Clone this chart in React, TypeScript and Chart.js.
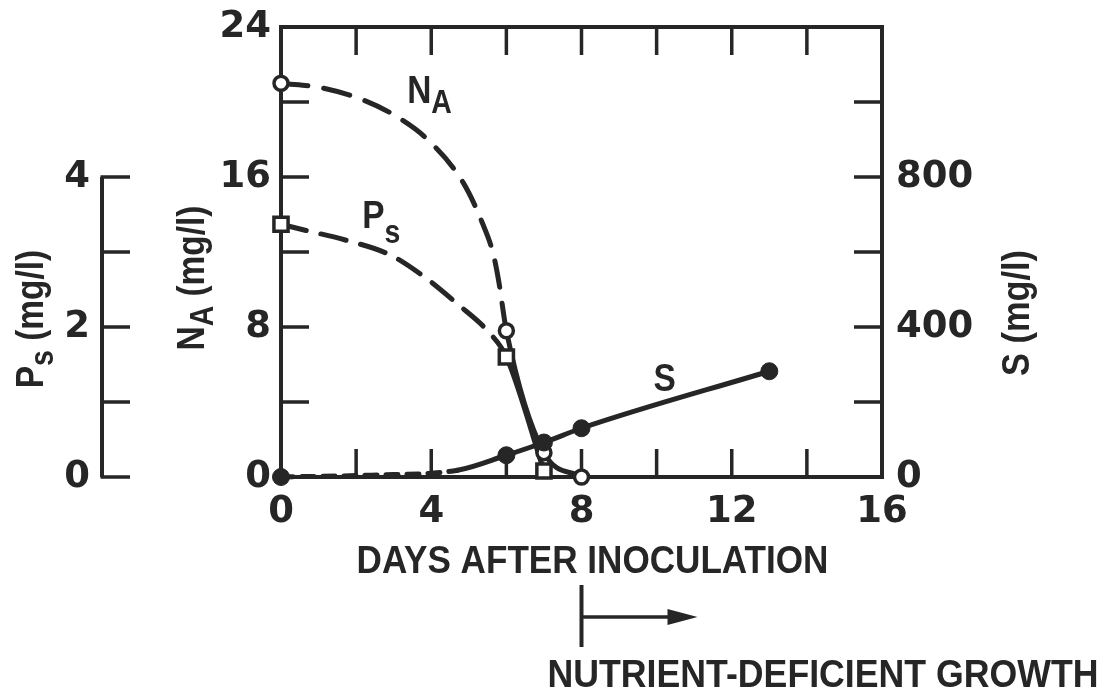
import React, { useEffect, useRef } from 'react';
import { Chart, registerables } from 'chart.js';

Chart.register(...registerables);

// ---------------- data ----------------
// N_A (mg/l) – curve traced through the hand-drawn line, and measured samples
const NA_CURVE_DAYS = [0, 1.1, 2.2, 3.1, 3.9, 4.85, 5.35, 5.65, 5.8, 6, 7, 8];
const NA_CURVE_VALUES = [21, 20.75, 20.1, 19.2, 18.0, 15.7, 13.6, 11.9, 10.4, 7.8, 1.3, 0];
const NA_SAMPLE_DAYS = [0, 6, 7, 8];
const NA_SAMPLE_VALUES = [21, 7.8, 1.3, 0];

// P_s (mg/l)
const PS_CURVE_DAYS = [0, 0.64, 1.71, 2.91, 3.81, 4.69, 5.57, 6, 7];
const PS_CURVE_VALUES = [3.37, 3.29, 3.16, 2.96, 2.67, 2.31, 1.91, 1.6, 0.08];
const PS_SAMPLE_DAYS = [0, 6, 7];
const PS_SAMPLE_VALUES = [3.37, 1.6, 0.08];

// S (mg/l)
const S_CURVE_DAYS = [0, 2.4, 4.7, 6, 7, 8, 13];
const S_CURVE_VALUES = [0, 5, 18, 58, 92, 130, 282];
const S_SAMPLE_DAYS = [0, 6, 7, 8, 13];
const S_SAMPLE_VALUES = [0, 58, 92, 130, 282];

// where the dashed part of each line ends (days)
const NA_DASH_UNTIL = 6;
const PS_DASH_UNTIL = 6;
const S_DASH_UNTIL = 4.7;

// tick values
const DAY_LABEL_TICKS = [0, 4, 8, 12, 16];
const NA_LABEL_TICKS = [0, 8, 16, 24];
const S_LABEL_TICKS = [0, 400, 800];
const PS_LABEL_TICKS = [0, 2, 4];
const DAY_MINOR_TICKS = [2, 4, 6, 8, 10, 12, 14];
const NA_MINOR_TICKS = [4, 8, 12, 16, 20];
const S_MINOR_TICKS = [200, 400, 600, 800, 1000];
const PS_AXIS_TICKS = [0, 1, 2, 3, 4];

// texts
const X_TITLE = 'DAYS AFTER INOCULATION';
const PHASE_TEXT = 'NUTRIENT-DEFICIENT GROWTH';
const PHASE_START_DAY = 8;

// ---------------- styles ----------------
const INK = '#262626';
const NUM_FONT = 'DejaVu Sans';
const TXT_FONT = '"Liberation Sans", sans-serif';
const SQUEEZE = 0.88; // narrow lettering
const TICK_LEN = 28;

const pts = (xs: number[], ys: number[]) => xs.map((x, i) => ({ x, y: ys[i] }));

type Part = { t: string; sub?: boolean; dy?: number };

function drawParts(
  ctx: CanvasRenderingContext2D,
  parts: Part[],
  x: number,
  y: number,
  size: number,
  align: 'left' | 'center',
  sq: number = SQUEEZE,
) {
  const subSize = size * 0.85;
  const fontOf = (p: Part) => `bold ${p.sub ? subSize : size}px ${TXT_FONT}`;
  let total = 0;
  const widths = parts.map((p) => {
    ctx.font = fontOf(p);
    const w = ctx.measureText(p.t).width * sq;
    total += w;
    return w;
  });
  let cx = align === 'center' ? x - total / 2 : x;
  ctx.textAlign = 'left';
  ctx.textBaseline = 'alphabetic';
  parts.forEach((p, i) => {
    ctx.save();
    ctx.font = fontOf(p);
    ctx.translate(cx, y + (p.sub ? p.dy ?? size * 0.3 : 0));
    ctx.scale(sq, 1);
    ctx.fillText(p.t, 0, 0);
    ctx.restore();
    cx += widths[i];
  });
}

function drawRotated(
  ctx: CanvasRenderingContext2D,
  parts: Part[],
  cx: number,
  cy: number,
  size: number,
) {
  ctx.save();
  ctx.translate(cx, cy);
  ctx.rotate(-Math.PI / 2);
  drawParts(ctx, parts, 0, size * 0.36, size, 'center');
  ctx.restore();
}

const decorPlugin = {
  id: 'decor',
  beforeDatasetsDraw(chart: any) {
    const { ctx, chartArea: a, scales } = chart;
    const x = scales.x;
    const y = scales.y;
    const s = scales.yS;
    const p = scales.yP;
    ctx.save();
    ctx.strokeStyle = INK;
    ctx.lineWidth = 4;
    ctx.strokeRect(a.left, a.top, a.right - a.left, a.bottom - a.top);
    ctx.lineWidth = 3.5;
    ctx.beginPath();
    DAY_MINOR_TICKS.forEach((d) => {
      const px = x.getPixelForValue(d);
      ctx.moveTo(px, a.bottom);
      ctx.lineTo(px, a.bottom - TICK_LEN);
      ctx.moveTo(px, a.top);
      ctx.lineTo(px, a.top + TICK_LEN);
    });
    NA_MINOR_TICKS.forEach((v) => {
      const py = y.getPixelForValue(v);
      ctx.moveTo(a.left, py);
      ctx.lineTo(a.left + TICK_LEN, py);
    });
    S_MINOR_TICKS.forEach((v) => {
      const py = s.getPixelForValue(v);
      ctx.moveTo(a.right, py);
      ctx.lineTo(a.right - TICK_LEN, py);
    });
    ctx.stroke();
    // separate P_s axis, a bracket with inward ticks
    const ax = p.right + 12;
    ctx.lineWidth = 4;
    ctx.beginPath();
    ctx.moveTo(ax, p.getPixelForValue(PS_AXIS_TICKS[0]));
    ctx.lineTo(ax, p.getPixelForValue(PS_AXIS_TICKS[PS_AXIS_TICKS.length - 1]));
    ctx.stroke();
    ctx.lineWidth = 3.5;
    ctx.beginPath();
    PS_AXIS_TICKS.forEach((v) => {
      const py = p.getPixelForValue(v);
      ctx.moveTo(ax - 1.5, py);
      ctx.lineTo(ax + TICK_LEN, py);
    });
    ctx.stroke();
    ctx.restore();
  },
  afterDraw(chart: any) {
    const { ctx, chartArea: a, scales } = chart;
    const x = scales.x;
    const y = scales.y;
    const s = scales.yS;
    ctx.save();
    ctx.fillStyle = INK;
    ctx.strokeStyle = INK;

    // axis titles
    drawRotated(ctx, [{ t: 'P' }, { t: 's', sub: true, dy: 10 }, { t: ' (mg/l)' }], 29, 319, 38);
    drawRotated(ctx, [{ t: 'N' }, { t: 'A', sub: true, dy: 9 }, { t: ' (mg/l)' }], 190, 278, 38);
    drawRotated(ctx, [{ t: 'S (mg/l)' }], s.left + 133, 313, 39);

    drawParts(ctx, [{ t: X_TITLE }], (a.left + a.right) / 2 + 11, a.bottom + 96, 39, 'center', 0.9);

    // phase arrow
    const bx = x.getPixelForValue(PHASE_START_DAY);
    const ay = a.bottom + 140;
    ctx.lineWidth = 4;
    ctx.beginPath();
    ctx.moveTo(bx, ay - 32);
    ctx.lineTo(bx, ay + 30);
    ctx.stroke();
    ctx.lineWidth = 3.5;
    ctx.beginPath();
    ctx.moveTo(bx, ay);
    ctx.lineTo(bx + 92, ay);
    ctx.stroke();
    ctx.beginPath();
    ctx.moveTo(bx + 116, ay);
    ctx.lineTo(bx + 86, ay - 8);
    ctx.lineTo(bx + 86, ay + 8);
    ctx.closePath();
    ctx.fill();

    drawParts(ctx, [{ t: PHASE_TEXT }], bx - 34, a.bottom + 210, 39, 'left', 0.915);

    // in-plot curve labels (placed in data coordinates)
    drawParts(ctx, [{ t: 'N' }, { t: 'A', sub: true, dy: 10 }], x.getPixelForValue(3.36), y.getPixelForValue(19.95), 38, 'left');
    drawParts(ctx, [{ t: 'P' }, { t: 's', sub: true, dy: 15 }], x.getPixelForValue(2.16), y.getPixelForValue(13.3), 38, 'left');
    drawParts(ctx, [{ t: 'S' }], x.getPixelForValue(9.92), y.getPixelForValue(4.6), 38, 'left');
    ctx.restore();
  },
};

export default function App() {
  const ref = useRef<HTMLCanvasElement>(null);

  useEffect(() => {
    document.body.style.margin = '0';
    document.body.style.overflow = 'hidden';
    const tickFont = { family: NUM_FONT, size: 37, weight: 'bold' as const };
    const dashUntil = (limit: number, dash: number[]) => (c: any) =>
      c.p1.parsed.x <= limit + 1e-9 ? dash : undefined;
    const fitV = (w: number) => (sc: any) => {
      sc.width = w;
      sc.paddingTop = 0;
      sc.paddingBottom = 0;
    };

    const chart = new Chart(ref.current as HTMLCanvasElement, {
      type: 'line',
      data: {
        datasets: [
          {
            label: 'S samples',
            data: pts(S_SAMPLE_DAYS, S_SAMPLE_VALUES),
            yAxisID: 'yS',
            showLine: false,
            pointStyle: 'circle',
            pointRadius: 8.5,
            pointBorderWidth: 1,
            pointBackgroundColor: INK,
            pointBorderColor: INK,
            clip: false,
          },
          {
            label: 'N_A samples',
            data: pts(NA_SAMPLE_DAYS, NA_SAMPLE_VALUES),
            yAxisID: 'y',
            showLine: false,
            pointStyle: 'circle',
            pointRadius: 7,
            pointBorderWidth: 3.5,
            pointBackgroundColor: '#ffffff',
            pointBorderColor: INK,
            clip: false,
          },
          {
            label: 'P_s samples',
            data: pts(PS_SAMPLE_DAYS, PS_SAMPLE_VALUES),
            yAxisID: 'yP',
            showLine: false,
            pointStyle: 'rect',
            pointRadius: 10,
            pointBorderWidth: 3.5,
            pointBackgroundColor: '#ffffff',
            pointBorderColor: INK,
            clip: false,
          },
          {
            label: 'S',
            data: pts(S_CURVE_DAYS, S_CURVE_VALUES),
            yAxisID: 'yS',
            borderColor: INK,
            borderWidth: 5,
            borderCapStyle: 'round',
            pointRadius: 0,
            cubicInterpolationMode: 'monotone',
            segment: { borderDash: dashUntil(S_DASH_UNTIL, [12, 9]) },
            clip: false,
          },
          {
            label: 'N_A',
            data: pts(NA_CURVE_DAYS, NA_CURVE_VALUES),
            yAxisID: 'y',
            borderColor: INK,
            borderWidth: 5,
            borderCapStyle: 'round',
            pointRadius: 0,
            cubicInterpolationMode: 'monotone',
            segment: { borderDash: dashUntil(NA_DASH_UNTIL, [27, 16]) },
            clip: false,
          },
          {
            label: 'P_s',
            data: pts(PS_CURVE_DAYS, PS_CURVE_VALUES),
            yAxisID: 'yP',
            borderColor: INK,
            borderWidth: 5,
            borderCapStyle: 'round',
            pointRadius: 0,
            cubicInterpolationMode: 'monotone',
            segment: { borderDash: dashUntil(PS_DASH_UNTIL, [26, 15]) },
            clip: false,
          },
        ],
      },
      options: {
        responsive: false,
        animation: false,
        events: [],
        layout: { padding: { top: 27, left: 0, right: 0, bottom: 0 } },
        plugins: { legend: { display: false }, tooltip: { enabled: false } },
        scales: {
          x: {
            type: 'linear',
            position: 'bottom',
            min: 0,
            max: 16,
            afterFit: (sc: any) => {
              sc.height = 216;
              sc.paddingLeft = 0;
              sc.paddingRight = 0;
            },
            grid: { display: false, drawTicks: false },
            border: { display: false },
            ticks: {
              stepSize: 4,
              autoSkip: false,
              maxRotation: 0,
              font: tickFont,
              color: INK,
              padding: 13,
              callback: (v: any) => (DAY_LABEL_TICKS.includes(Number(v)) ? String(v) : ''),
            },
          },
          y: {
            type: 'linear',
            position: 'left',
            weight: 0,
            min: 0,
            max: 24,
            afterFit: fitV(191),
            grid: { display: false, drawTicks: false },
            border: { display: false },
            ticks: {
              stepSize: 8,
              font: tickFont,
              color: INK,
              padding: 10,
              callback: (v: any) => (NA_LABEL_TICKS.includes(Number(v)) ? String(v) : ''),
            },
          },
          yP: {
            type: 'linear',
            position: 'left',
            weight: 1,
            min: 0,
            max: 6,
            afterFit: fitV(90),
            grid: { display: false, drawTicks: false },
            border: { display: false },
            ticks: {
              stepSize: 2,
              font: tickFont,
              color: INK,
              padding: 0,
              callback: (v: any) => (PS_LABEL_TICKS.includes(Number(v)) ? String(v) : ''),
            },
          },
          yS: {
            type: 'linear',
            position: 'right',
            min: 0,
            max: 1200,
            afterFit: fitV(217),
            grid: { display: false, drawTicks: false },
            border: { display: false },
            ticks: {
              stepSize: 400,
              font: tickFont,
              color: INK,
              padding: 14,
              callback: (v: any) => (S_LABEL_TICKS.includes(Number(v)) ? String(v) : ''),
            },
          },
        },
      },
      plugins: [decorPlugin],
    } as any);
    return () => chart.destroy();
  }, []);

  return (
    <div style={{ width: 1099, height: 693, background: '#ffffff' }}>
      <canvas ref={ref} width={1099} height={693} style={{ display: 'block', width: 1099, height: 693 }} />
    </div>
  );
}
